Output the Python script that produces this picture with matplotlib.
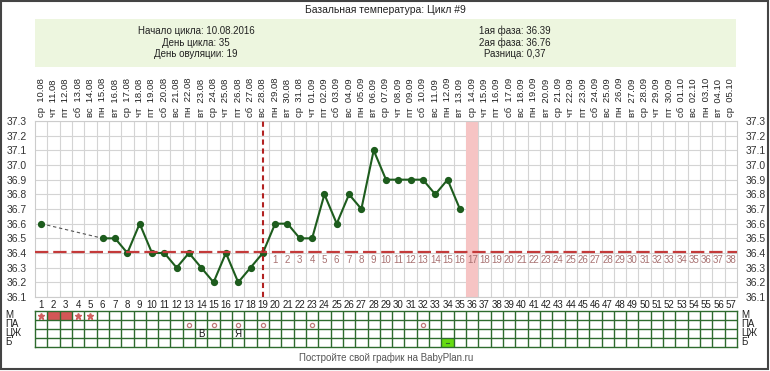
import numpy as np
import pandas as pd
import matplotlib
matplotlib.use("Agg")
import matplotlib.pyplot as plt
from matplotlib.patches import Rectangle

plt.rcParams["font.family"] = ["Liberation Sans", "DejaVu Sans"]

# Данные цикла
start_date = "2016-08-10"
n_days = 57
temp_days = list(range(1, 36))
temps = [36.6, np.nan, np.nan, np.nan, np.nan, 36.5, 36.5, 36.4, 36.6, 36.4,
         36.4, 36.3, 36.4, 36.3, 36.2, 36.4, 36.2, 36.3, 36.4, 36.6,
         36.6, 36.5, 36.5, 36.8, 36.6, 36.8, 36.7, 37.1, 36.9, 36.9,
         36.9, 36.9, 36.8, 36.9, 36.7]
coverline = 36.41
ovulation_day = 19
expected_day = 36
weekdays_ru = ["пн", "вт", "ср", "чт", "пт", "сб", "вс"]

# Таблица отметок
m_stars = [1, 4, 5]
m_filled = [2, 3]
pa_days = [13, 15, 17, 19, 23, 32]
czh_marks = {14: "В", 17: "Я"}
b_days = [34]
row_names = ["М", "ПА", "ЦЖ", "Б"]

info_left = ["Начало цикла: 10.08.2016", "День цикла: 35", "День овуляции: 19"]
info_right = ["1ая фаза: 36.39", "2ая фаза: 36.76", "Разница: 0,37"]

W, H = 770, 371
def fx(x): return x / W
def fy(y): return 1 - y / H

fig = plt.figure(figsize=(W / 100, H / 100), dpi=100)
fig.patch.set_facecolor("white")

# рамка и шапка
fig.patches.append(Rectangle((fx(1), fy(369)), fx(767), 368 / H, transform=fig.transFigure,
                             fill=False, ec="#444444", lw=1.5))
fig.patches.append(Rectangle((fx(35), fy(67)), fx(701), 48 / H, transform=fig.transFigure,
                             fc="#edf6df", ec="none"))
fig.text(fx(385), fy(10), "Базальная температура: Цикл #9", ha="center", va="center",
         fontsize=7.5, color="#222222")
for i, (a, b) in enumerate(zip(info_left, info_right)):
    yy = fy(31 + i * 11.7)
    fig.text(fx(196), yy, a, ha="center", va="center", fontsize=7, color="#222222")
    fig.text(fx(515), yy, b, ha="center", va="center", fontsize=7, color="#222222")
fig.text(fx(386), fy(358), "Постройте свой график на BabyPlan.ru", ha="center", va="center",
         fontsize=7, color="#555555")

# основной график
x0, x1 = 35, 737
ax = fig.add_axes([fx(x0), fy(297), (x1 - x0) / W, (297 - 121) / H])
ax.set_xlim(0.5, n_days + 0.5)
ax.set_ylim(36.1, 37.3)
for xv in np.arange(1.5, n_days, 1):
    ax.axvline(xv, color="#d4d4d4", lw=0.8, zorder=0)
yt = np.round(np.arange(36.1, 37.31, 0.1), 1)
for yv in yt:
    ax.axhline(yv, color="#d4d4d4", lw=0.8, zorder=0)
for s in ax.spines.values():
    s.set_color("#cccccc")
    s.set_linewidth(0.8)

ax.axvspan(expected_day - 0.5, expected_day + 0.5, color="#f6c4c4", zorder=1, lw=0)

days = list(range(1, n_days + 1))
ax.set_xticks(days)
ax.set_xticklabels([str(d) for d in days], fontsize=7, color="#222222")
ax.set_yticks(yt)
ax.set_yticklabels([f"{v:.1f}" for v in yt], fontsize=7.5, color="#333333")
ax.tick_params(axis="x", length=0, pad=2)
ax.tick_params(axis="y", length=0, pad=6, labelright=True)

# подписи дат сверху
dates = pd.date_range(start_date, periods=n_days, freq="D")
for d, dt in zip(days, dates):
    lab = weekdays_ru[dt.weekday()] + "  " + dt.strftime("%d.%m")
    ax.text(d, 1.022, lab, transform=ax.get_xaxis_transform(), rotation=90,
            ha="center", va="bottom", fontsize=6.8, color="#222222")

# температурная кривая
t = np.array(temps)
ax.plot(temp_days, t, color="#1d5c1d", lw=1.5, marker="o", ms=4.2, zorder=3)
valid = [i for i in range(len(t)) if not np.isnan(t[i])]
for a, b in zip(valid[:-1], valid[1:]):
    if b - a > 1:
        ax.plot([temp_days[a], temp_days[b]], [t[a], t[b]], color="#555555", lw=0.8,
                ls=(0, (3, 2.5)), zorder=2)

ax.axhline(coverline, color="#c43a3a", lw=1.6, ls=(0, (6, 2.2)), zorder=4)
ax.axvline(ovulation_day, color="#b22222", lw=1.5, ls=(0, (2.5, 1.8)), zorder=4)

for k, d in enumerate(range(ovulation_day + 1, n_days + 1), start=1):
    ax.text(d, coverline - 0.025, str(k), ha="center", va="top", fontsize=7,
            color="#a87272", zorder=5)

# таблица отметок
tb = fig.add_axes([fx(x0), fy(347), (x1 - x0) / W, 36 / H])
tb.set_xlim(0.5, n_days + 0.5)
tb.set_ylim(4, 0)
tb.set_xticks([])
tb.set_yticks([])
for s in tb.spines.values():
    s.set_color("#2e6b2e")
    s.set_linewidth(1)
for d in m_filled:
    tb.add_patch(Rectangle((d - 0.5, 0), 1, 1, fc="#d25656", ec="none"))
for d in b_days:
    tb.add_patch(Rectangle((d - 0.5, 3), 1, 1, fc="#66dd11", ec="none"))
    tb.plot([d - 0.15, d + 0.15], [3.5, 3.5], color="#2e6b2e", lw=0.8)
for xv in np.arange(1.5, n_days, 1):
    tb.axvline(xv, color="#2e6b2e", lw=1)
for yv in [1, 2, 3]:
    tb.axhline(yv, color="#2e6b2e", lw=1)
tb.plot(m_stars, [0.5] * len(m_stars), ls="none", marker="*", ms=5, color="#d06060")
tb.plot(pa_days, [1.5] * len(pa_days), ls="none", marker="o", ms=3, mfc="none",
        mec="#c07a7a", mew=0.9)
for d, s in czh_marks.items():
    tb.text(d, 2.55, s, ha="center", va="center", fontsize=7, color="#111111")
for i, name in enumerate(row_names):
    fig.text(fx(5), fy(315 + i * 9), name, ha="left", va="center", fontsize=7, color="#222222")
    fig.text(fx(741), fy(315 + i * 9), name, ha="left", va="center", fontsize=7, color="#222222")

fig.savefig("out.png", dpi=100)
